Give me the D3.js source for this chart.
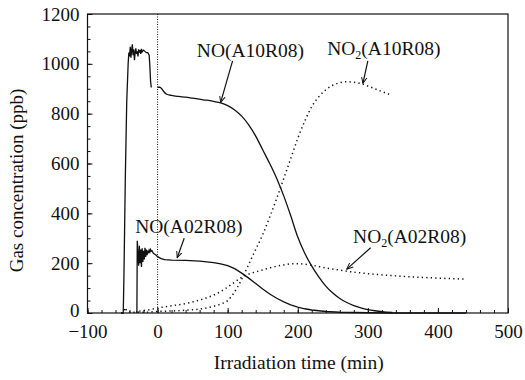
<!DOCTYPE html>
<html>
<head>
<meta charset="utf-8">
<script src="https://cdn.jsdelivr.net/npm/d3@7"></script>
<style>
  body { margin: 0; background: #fff; }
  svg text { font-family: "Liberation Serif", "Times New Roman", Tinos, "Nimbus Roman", "DejaVu Serif", serif !important; fill: #111; }
</style>
</head>
<body>
<div id="chart"></div>
<script>
// NO and NO2 traces, [time (min), concentration (ppb)]
const noA10Pre = [[-52,0],[-49,0],[-48,150],[-46,550],[-44,850],[-42,1000],[-41,1045],[-40,1030],[-39,1068],[-38,1025],[-37,1055],[-36,1078],[-35,1035],[-34,1058],[-33,1015],[-32,1045],[-31,1062],[-30,1040],[-29,1050],[-28,1030],[-27,1058],[-26,1045],[-25,1055],[-24,1040],[-23,1060],[-22,1048],[-20,1055],[-18,1050],[-16,1045],[-14,1045],[-12,1035],[-11,990],[-10,930],[-9,905]]
const noA10 = [[0,906],[3,906],[6,900],[9,888],[13,878],[20,873],[30,869],[40,866],[50,862],[60,858],[70,854],[80,849],[90,843],[100,832],[110,815],[120,790],[130,755],[140,710],[150,655],[160,600],[170,540],[180,470],[190,390],[200,305],[210,240],[220,188],[230,145],[240,108],[250,80],[260,58],[270,42],[280,30],[290,21],[300,14],[310,9],[320,5],[335,2]]
const noA02 = [[-30,0],[-29.5,5],[-29,290],[-28,240],[-27,190],[-26,270],[-25,200],[-24,255],[-23,185],[-22,260],[-21,205],[-20,250],[-19,215],[-18,262],[-17,225],[-16,255],[-15,232],[-14,250],[-13,240],[-12,252],[-11,245],[-10,255],[-9,248],[-8,250],[-6,240],[-4,236],[-2,232],[0,226],[5,218],[10,214],[20,212],[40,211],[60,208],[80,202],[90,197],[100,190],[110,178],[120,160],[130,140],[140,118],[150,96],[160,76],[170,59],[180,45],[190,33],[200,24],[210,17],[220,12],[240,6],[260,3],[300,1],[340,0],[440,0]]
const no2A10 = [[-52,0],[-49,3],[-47,15],[-46,22],[-45,14],[-43,6],[-40,4],[-30,3],[-20,3],[-10,4],[0,6],[20,8],[40,11],[60,16],[80,27],[90,36],[100,50],[110,85],[120,135],[130,195],[140,255],[150,315],[160,385],[170,460],[180,540],[190,620],[200,700],[210,770],[220,828],[230,868],[240,896],[250,914],[260,924],[270,928],[280,926],[290,921],[300,911],[310,900],[320,889],[332,876]]
const no2A02 = [[-30,2],[-28,12],[-26,8],[-20,10],[-10,14],[0,20],[13,26],[25,31],[40,38],[51,45],[60,52],[70,61],[80,72],[90,86],[100,104],[110,124],[120,143],[130,156],[140,165],[150,173],[160,181],[170,188],[180,193],[190,197],[200,198],[210,196],[220,192],[240,181],[260,172],[280,164],[300,158],[320,153],[340,149],[370,144],[400,140],[440,136]]

const xTicks = [-100, 0, 100, 200, 300, 400, 500]
const yTicks = [0, 200, 400, 600, 800, 1000, 1200]

// labels: text, subscript, label anchor [t, v], arrow start [t, v], arrow tip [t, v]
const labels = [
    { name: "NO", sub: "", run: "(A10R08)", at: [56, 1027], from: [107, 1012], to: [90, 845] },
    { name: "NO", sub: "2", run: "(A10R08)", at: [242, 1035], from: [300, 1012], to: [293, 922] },
    { name: "NO", sub: "", run: "(A02R08)", at: [-32, 321], from: [38, 300], to: [28, 222] },
    { name: "NO", sub: "2", run: "(A02R08)", at: [279, 281], from: [304, 262], to: [270, 176] }
]

const serif = "'Liberation Serif', 'Times New Roman', Tinos, 'Nimbus Roman', serif"

var margin = { top: 14, right: 17, bottom: 67, left: 87.5 }
    , width = 525 - margin.left - margin.right
    , height = 380 - margin.top - margin.bottom

const svg = d3.select("#chart").append("svg")
    .attr("width", 525)
    .attr("height", 380)
    .append("g")
    .attr("transform", "translate(" + margin.left + "," + margin.top + ")");

const x = d3.scaleLinear().domain([-100, 500]).range([0, width]);
const y = d3.scaleLinear().domain([0, 1200]).range([height, 0]);

svg.append("defs").append("marker")
    .attr("id", "head")
    .attr("viewBox", "0 0 10 10")
    .attr("refX", 9).attr("refY", 5)
    .attr("markerWidth", 7).attr("markerHeight", 7)
    .attr("markerUnits", "userSpaceOnUse")
    .attr("orient", "auto")
    .append("path")
    .attr("d", "M0,1 L9,5 L0,9")
    .attr("fill", "none")
    .attr("stroke", "#111")
    .attr("stroke-width", 1.4)

// frame
svg.append("rect")
    .attr("width", width).attr("height", height)
    .attr("fill", "none").attr("stroke", "#111").attr("stroke-width", 1.2)

// ticks pointing inward
const xaxis = d3.axisBottom(x).tickValues(xTicks).tickSizeInner(-5).tickSizeOuter(0)
    .tickPadding(12).tickFormat(d => d < 0 ? "\u2212" + Math.abs(d) : d)
const xminor = d3.axisBottom(x).tickValues(d3.range(-100, 501, 20)).tickSizeInner(-3).tickSizeOuter(0).tickFormat("")
const yaxis = d3.axisLeft(y).tickValues(yTicks).tickSizeInner(-5).tickSizeOuter(0).tickPadding(8)
    .tickFormat(d3.format("d"))
const yminor = d3.axisLeft(y).tickValues(d3.range(0, 1201, 50)).tickSizeInner(-3).tickSizeOuter(0).tickFormat("")

svg.append("g").attr("transform", "translate(0," + height + ")").call(xminor)
svg.append("g").attr("class", "axis").attr("transform", "translate(0," + height + ")").call(xaxis)
svg.append("g").call(yminor)
const ygroup = svg.append("g").attr("class", "axis").call(yaxis)

svg.selectAll(".domain").remove()
svg.selectAll("g").attr("font-family", serif)
svg.selectAll(".tick line").attr("stroke", "#111").attr("stroke-width", 1)
svg.selectAll(".axis text").style("font-size", "19px").attr("fill", "#111")
    .style("font-family", serif)
// lift the zero label a little so it clears the -100 label below it
ygroup.selectAll(".tick text").filter(d => d === 0).attr("dy", "0.2em")

// start of irradiation
svg.append("line")
    .attr("x1", x(0)).attr("x2", x(0))
    .attr("y1", 0).attr("y2", height)
    .attr("stroke", "#111").attr("stroke-width", 1)
    .attr("stroke-dasharray", "1,1.5")

const line = d3.line()
    .x(d => x(d[0]))
    .y(d => y(d[1]))

const lineSmooth = d3.line()
    .curve(d3.curveMonotoneX)
    .x(d => x(d[0]))
    .y(d => y(d[1]))

svg.append("path").datum(noA10Pre)
    .attr("fill", "none").attr("stroke", "#111").attr("stroke-width", 1.3)
    .attr("d", line)
svg.append("path").datum(noA10)
    .attr("fill", "none").attr("stroke", "#111").attr("stroke-width", 1.3)
    .attr("d", lineSmooth)
svg.append("path").datum(noA02)
    .attr("fill", "none").attr("stroke", "#111").attr("stroke-width", 1.3)
    .attr("d", line)

;[no2A10, no2A02].forEach(s => {
    svg.append("path").datum(s)
        .attr("fill", "none").attr("stroke", "#111").attr("stroke-width", 1.5)
        .attr("stroke-dasharray", "1.3,3.2")
        .attr("d", lineSmooth)
})

// annotations
labels.forEach(l => {
    const t = svg.append("text")
        .attr("x", x(l.at[0])).attr("y", y(l.at[1]))
        .style("font-size", "19.5px")
        .style("font-family", serif)
    t.append("tspan").text(l.name)
    if (l.sub) {
        t.append("tspan").attr("dy", 4).style("font-size", "12px").text(l.sub)
        t.append("tspan").attr("dy", -4).text(l.run)
    } else {
        t.append("tspan").text(l.run)
    }
    svg.append("line")
        .attr("x1", x(l.from[0])).attr("y1", y(l.from[1]))
        .attr("x2", x(l.to[0])).attr("y2", y(l.to[1]))
        .attr("stroke", "#111").attr("stroke-width", 1.2)
        .attr("marker-end", "url(#head)")
})

// axis titles
svg.append("text")
    .attr("text-anchor", "middle")
    .attr("transform", "translate(" + (width / 2 + 1) + "," + (height + 56) + ")")
    .text("Irradiation time (min)")
    .style("font-size", "19.5px")
    .style("font-family", serif)

svg.append("text")
    .attr("text-anchor", "middle")
    .attr("transform", "translate(" + (-65) + "," + (height / 2 + 17) + ")rotate(-90)")
    .text("Gas concentration (ppb)")
    .style("font-size", "19px")
    .style("font-family", serif)
</script>
</body>
</html>
